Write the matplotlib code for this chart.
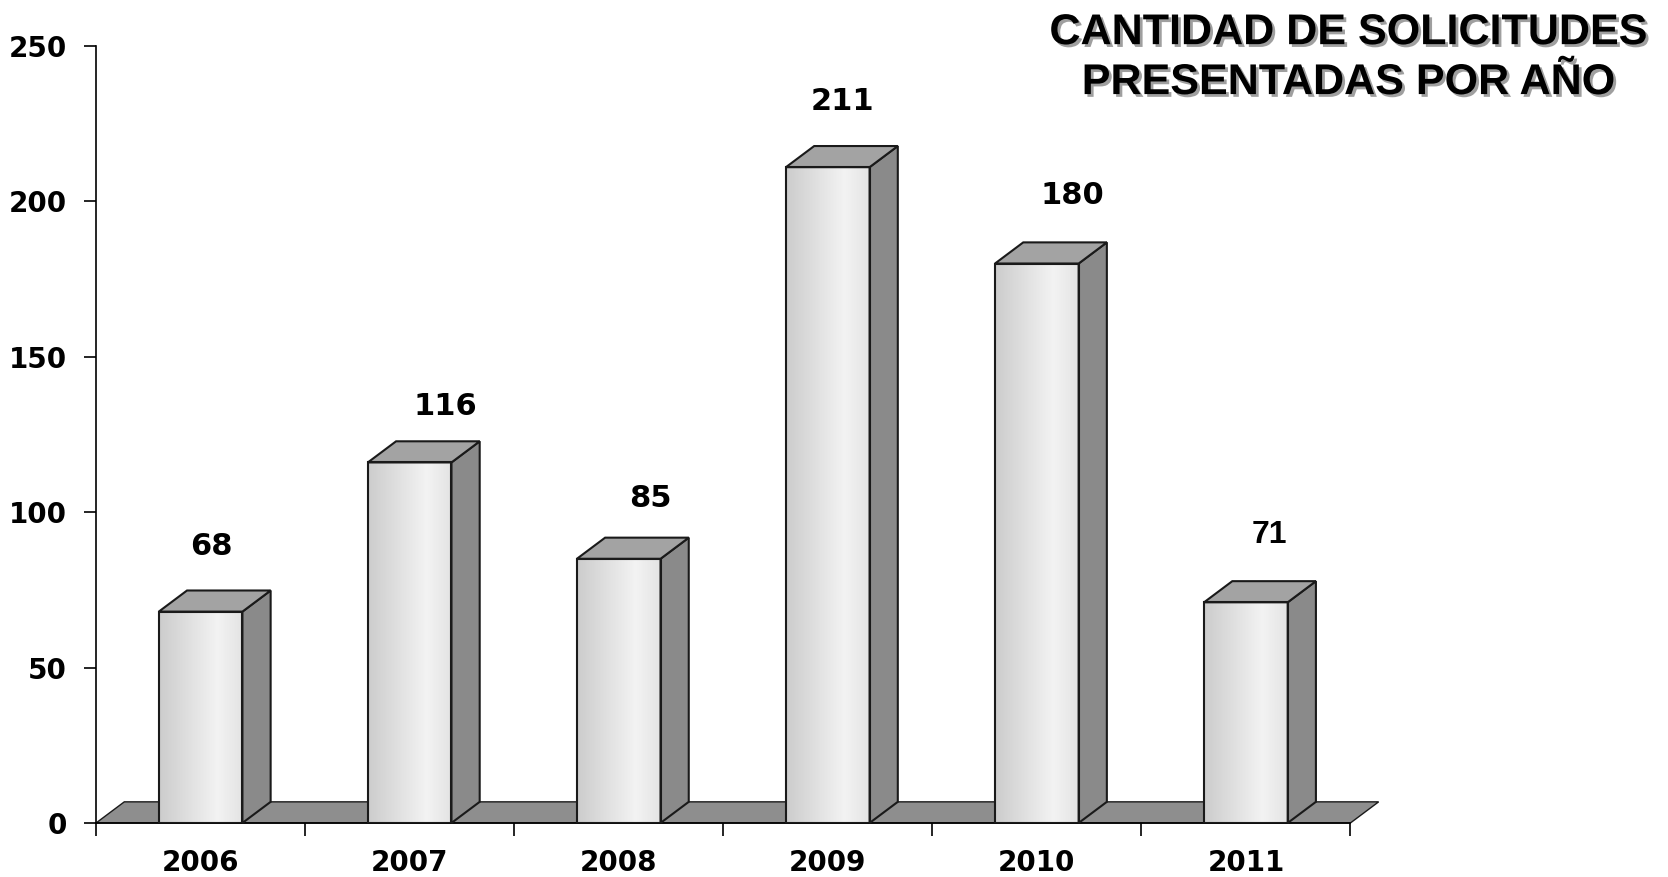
import numpy as np
import matplotlib.pyplot as plt
import matplotlib.patheffects as pe
from matplotlib.patches import Polygon

years = ['2006', '2007', '2008', '2009', '2010', '2011']
solicitudes = [68, 116, 85, 211, 180, 71]
yticks = [0, 50, 100, 150, 200, 250]
title = 'CANTIDAD DE SOLICITUDES\nPRESENTADAS POR AÑO'

# label nudges (the original labels were placed by hand)
label_dx = [0.05, 0.17, 0.15, 0.07, 0.17, 0.11]
label_dy = [21, 18, 19.5, 21, 22, 21.5]

bar_w = 0.40
dx = 0.135   # depth offset in category units
dy = 6.8     # depth offset in value units

fig = plt.figure(figsize=(16.68, 8.77), dpi=100)
ax = fig.add_axes([0.0576, 0.0616, 0.752, 0.886])

x = np.arange(len(years))

edge = '#1a1a1a'

# floor
x0, x1 = -0.5, len(years) - 0.5
floor = Polygon([(x0, 0), (x1, 0), (x1 + dx, dy), (x0 + dx, dy)], closed=True,
                facecolor='#8e8e8e', edgecolor=edge, lw=1.0, clip_on=False, zorder=1)
ax.add_patch(floor)

# horizontal gradient for the front faces
g = np.concatenate([np.linspace(0.80, 0.95, 70), np.linspace(0.95, 0.89, 30)])
grad = np.tile(g, (50, 1))

bars = ax.bar(x, solicitudes, width=bar_w, color='none', edgecolor=edge, lw=1.5, zorder=4)
for b, v in zip(bars, solicitudes):
    bx0 = b.get_x()
    bx1 = bx0 + b.get_width()
    im = ax.imshow(grad, extent=[bx0, bx1, 0, v], aspect='auto', cmap='gray',
                   vmin=0, vmax=1, zorder=3, interpolation='bicubic')
    im.set_clip_path(b)
    side = Polygon([(bx1, 0), (bx1 + dx, dy), (bx1 + dx, v + dy), (bx1, v)], closed=True,
                   facecolor='#8a8a8a', edgecolor=edge, lw=1.5, zorder=3, clip_on=False)
    top = Polygon([(bx0, v), (bx0 + dx, v + dy), (bx1 + dx, v + dy), (bx1, v)], closed=True,
                  facecolor='#a3a3a3', edgecolor=edge, lw=1.5, zorder=3, clip_on=False)
    ax.add_patch(side)
    ax.add_patch(top)

ax.set_xlim(-0.5, len(years) - 0.5)
ax.set_ylim(0, 250)

# value labels
for i, v in enumerate(solicitudes):
    if i == len(years) - 1:
        ax.text(i + label_dx[i], v + label_dy[i], str(v), ha='center', va='center',
                fontsize=23, fontweight='bold', family='Liberation Sans', clip_on=False)
    else:
        ax.text(i + label_dx[i], v + label_dy[i], str(v), ha='center', va='center',
                fontsize=22, fontweight='bold', clip_on=False)

# axes
for s in ['top', 'right']:
    ax.spines[s].set_visible(False)
ax.spines['left'].set_linewidth(1.2)
ax.spines['bottom'].set_linewidth(1.2)
ax.spines['left'].set_zorder(5)

ax.set_yticks(yticks)
ax.set_yticklabels([str(t) for t in yticks], fontsize=20, fontweight='bold')
ax.tick_params(axis='y', direction='out', length=9, width=1.2, pad=12)

ax.set_xticks(x)
ax.set_xticklabels(years, fontsize=20, fontweight='bold')
ax.set_xticks(np.arange(-0.5, len(years)), minor=True)
ax.tick_params(axis='x', which='major', length=0, pad=19)
ax.tick_params(axis='x', which='minor', direction='out', length=9, width=1.2)

fig.text(0.808, 0.985, title, ha='center', va='top', fontsize=31, fontweight='bold',
         family='Liberation Sans', linespacing=1.32,
         path_effects=[pe.SimplePatchShadow(offset=(2, -2), shadow_rgbFace='#777777', alpha=0.7),
                       pe.Normal()])

fig.savefig('out.png', dpi=100)
